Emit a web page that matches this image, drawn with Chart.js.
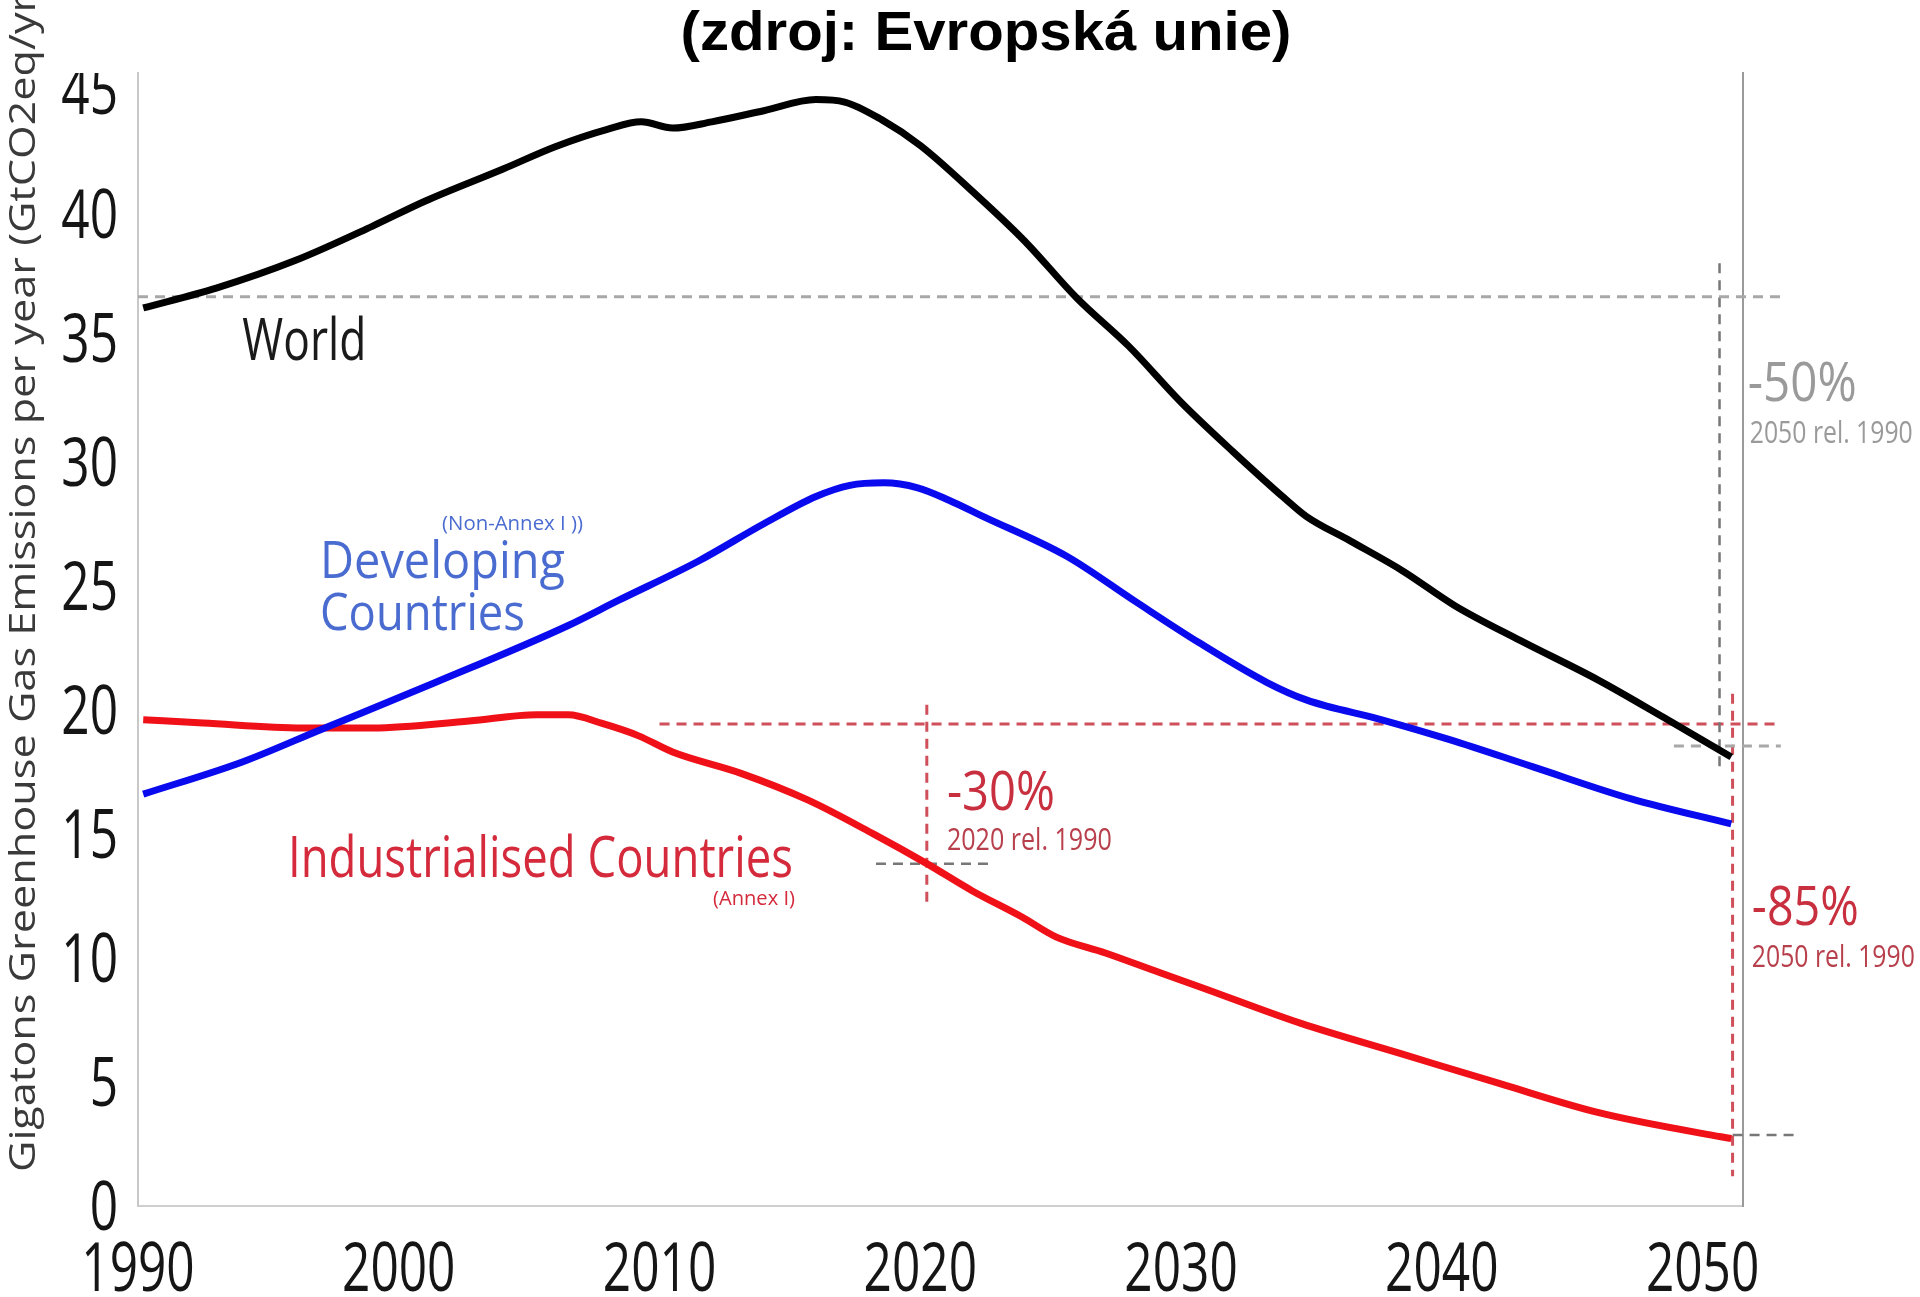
<!DOCTYPE html>
<html>
<head>
<meta charset="utf-8">
<script src="https://cdn.jsdelivr.net/npm/chart.js@4.4.1/dist/chart.umd.min.js"></script>
<style>
  html, body { margin: 0; padding: 0; background: #fff; }
  #wrap { width: 1920px; height: 1297px; position: relative; }
</style>
</head>
<body>
<div id="wrap"><canvas id="chartEmissions"></canvas></div>
<script>
// ── Values (GtCO2eq / yr) ─────────────────────────────────────────────

const worldYears = [1990.2, 1993, 1996, 1999, 2001, 2004, 2006, 2008, 2009.3, 2010.5, 2012, 2014, 2016, 2017.1, 2018.5, 2020, 2022, 2024, 2026, 2028, 2030, 2032, 2034, 2034.8, 2036.5, 2038.5, 2040.5, 2043, 2046, 2048.5, 2051.1];
const worldValues = [36.2, 37.0, 38.1, 39.5, 40.5, 41.8, 42.7, 43.4, 43.7, 43.45, 43.7, 44.15, 44.6, 44.5, 43.8, 42.75, 40.9, 38.9, 36.6, 34.65, 32.4, 30.4, 28.5, 27.8, 26.8, 25.6, 24.2, 22.8, 21.2, 19.7, 18.1];

const developingYears = [1990.2, 1994, 1997, 2001.4, 2006.5, 2008.4, 2011.5, 2014, 2016, 2017.3, 2018.6, 2019.9, 2021.1, 2022.4, 2025.6, 2028.2, 2030.7, 2033.3, 2034.8, 2037.7, 2040.3, 2043.5, 2047.3, 2051.1];
const developingValues = [16.6, 17.9, 19.2, 21.1, 23.4, 24.4, 26.0, 27.5, 28.6, 29.05, 29.15, 28.95, 28.45, 27.8, 26.2, 24.4, 22.7, 21.1, 20.4, 19.6, 18.8, 17.7, 16.4, 15.4];

const industrialYears = [1990.2, 1992.5, 1996.3, 1999, 2002.7, 2005.3, 2006.5, 2007.8, 2009.2, 2010.5, 2013.1, 2015.7, 2018.2, 2020.25, 2022, 2023.9, 2025.2, 2027.1, 2029.2, 2030.7, 2034.6, 2038.4, 2042.2, 2046.1, 2050.7, 2051.1];
const industrialValues = [19.6, 19.47, 19.27, 19.27, 19.55, 19.8, 19.8, 19.45, 18.95, 18.3, 17.45, 16.36, 15.0, 13.8, 12.7, 11.65, 10.85, 10.2, 9.4, 8.84, 7.36, 6.15, 4.94, 3.74, 2.79, 2.72];

const xTicks = [1990, 2000, 2010, 2020, 2030, 2040, 2050];
const yTicks = [0, 5, 10, 15, 20, 25, 30, 35, 40, 45];

// dashed guide segments: [x0, y0, x1, y1]
const guideSegments = [
  [1990.0, 36.65, 2053.0, 36.65],   // world 1990 level
  [2050.65, 38.0, 2050.65, 17.6],   // world 2050 marker
  [2048.9, 18.54, 2053.0, 18.54],   // world 2050 level
  [2010.0, 19.43, 2053.0, 19.43],   // industrialised 1990 level
  [2020.25, 20.2, 2020.25, 12.1],   // 2020 marker
  [2018.3, 13.8, 2022.75, 13.8],    // industrialised 2020 level
  [2051.15, 20.65, 2051.15, 1.2],   // industrialised 2050 marker
  [2051.15, 2.86, 2053.6, 2.86],    // industrialised 2050 level
];
const guideKinds = ["grey", "dark", "grey", "red", "red", "dark", "red", "dark"];

// ── Annotation texts (anchored in data coordinates) ──────────────────

const labelTexts = ["World", "(Non-Annex I ))", "Developing", "Countries", "Industrialised Countries", "(Annex I)", "-30%", "2020 rel. 1990", "-50%", "2050 rel. 1990", "-85%", "2050 rel. 1990"];
const labelYears = [1994.0, 2001.66, 1996.98, 1996.98, 1995.75, 2012.05, 2021.02, 2021.02, 2051.73, 2051.81, 2051.89, 2051.89];
const labelValues = [34.1, 27.25, 25.31, 23.22, 13.26, 12.13, 15.96, 14.35, 32.45, 30.75, 11.33, 9.63];

const labelStyles = [
  { size: 58, width: 124, color: "#1a1a1a" },
  { size: 20, width: 141, color: "#4a6cd0" },
  { size: 52, width: 245, color: "#4a6cd0" },
  { size: 52, width: 205, color: "#4a6cd0" },
  { size: 56, width: 505, color: "#d42a3c" },
  { size: 20, width: 82, color: "#d42a3c" },
  { size: 54, width: 108, color: "#c8303f" },
  { size: 31, width: 165, color: "#b8404c" },
  { size: 55, width: 109, color: "#9a9a9a" },
  { size: 31, width: 163, color: "#9a9a9a" },
  { size: 55, width: 107, color: "#c8303f" },
  { size: 31, width: 163, color: "#b8404c" },
];

const guideColors = { grey: "#a8a8a8", dark: "#777777", red: "#cf4f5a" };

// the source image is squeezed horizontally; tick digits follow that
const tickSize = 67;
const tickSqueeze = 0.74;

const toPoints = (xs, ys) => xs.map((x, i) => ({ x, y: ys[i] }));

// text squeezed/stretched to a given width, as in the source image
function drawFit(ctx, text, x, y, size, width, color, weight) {
  ctx.save();
  ctx.font = `${weight || "normal"} ${size}px "Open Sans", sans-serif`;
  const w = ctx.measureText(text).width;
  ctx.translate(x, y);
  ctx.scale(width / w, 1);
  ctx.fillStyle = color;
  ctx.textAlign = "left";
  ctx.textBaseline = "alphabetic";
  ctx.fillText(text, 0, 0);
  ctx.restore();
}

function drawTick(ctx, text, x, y, align) {
  ctx.save();
  ctx.font = `${tickSize}px "Open Sans", sans-serif`;
  ctx.translate(x, y);
  ctx.scale(tickSqueeze, 1);
  ctx.fillStyle = "#151515";
  ctx.textAlign = align;
  ctx.textBaseline = "alphabetic";
  ctx.fillText(text, 0, 0);
  ctx.restore();
}

const annotationPlugin = {
  id: "annotations",
  afterDatasetsDraw(chart) {
    const { ctx, scales, chartArea } = chart;
    const half = tickSize * 0.357;

    // tick labels, placed on the library's own ticks
    scales.x.ticks.forEach((t) => {
      drawTick(ctx, String(t.value), scales.x.getPixelForValue(t.value), 1267 + half, "center");
    });
    ctx.save();
    ctx.beginPath();
    ctx.rect(0, chartArea.top, chartArea.left, chart.height);
    ctx.clip();
    scales.y.ticks.forEach((t) => {
      drawTick(ctx, String(t.value), scales.y.left + 100, scales.y.getPixelForValue(t.value) + half, "right");
    });
    ctx.restore();

    labelTexts.forEach((t, i) => {
      const s = labelStyles[i];
      drawFit(ctx, t, scales.x.getPixelForValue(labelYears[i]), scales.y.getPixelForValue(labelValues[i]), s.size, s.width, s.color);
    });

    // page title
    ctx.save();
    ctx.font = 'bold 55px "Liberation Sans", Arial, sans-serif';
    const tw = ctx.measureText("(zdroj: Evropská unie)").width;
    ctx.translate(986 - 611 / 2, 50);
    ctx.scale(611 / tw, 1);
    ctx.fillStyle = "#000";
    ctx.fillText("(zdroj: Evropská unie)", 0, 0);
    ctx.restore();

    // y axis title, rotated
    const yTitle = "Gigatons Greenhouse Gas Emissions per year (GtCO2eq/yr)";
    ctx.save();
    ctx.font = '37px "Open Sans", sans-serif';
    const yw = ctx.measureText(yTitle).width;
    ctx.translate(35, 1172);
    ctx.rotate(-Math.PI / 2);
    ctx.scale(1190 / yw, 1);
    ctx.fillStyle = "#3a3a3a";
    ctx.fillText(yTitle, 0, 0);
    ctx.restore();
  },
};

const seriesDefaults = {
  pointRadius: 0,
  borderWidth: 7,
  fill: false,
  cubicInterpolationMode: "monotone",
  borderJoinStyle: "round",
};

new Chart(document.getElementById("chartEmissions"), {
  type: "line",
  data: {
    datasets: [
      { ...seriesDefaults, label: "World", data: toPoints(worldYears, worldValues), borderColor: "#000000" },
      { ...seriesDefaults, label: "Developing Countries", data: toPoints(developingYears, developingValues), borderColor: "#0a0aee" },
      { ...seriesDefaults, label: "Industrialised Countries", data: toPoints(industrialYears, industrialValues), borderColor: "#f01018" },
      ...guideSegments.map((g, i) => ({
        label: "guide " + i,
        data: [{ x: g[0], y: g[1] }, { x: g[2], y: g[3] }],
        borderColor: guideColors[guideKinds[i]],
        borderWidth: guideKinds[i] === "dark" ? 2.5 : 3,
        borderDash: [10, 7],
        pointRadius: 0,
        tension: 0,
        clip: false,
      })),
    ],
  },
  options: {
    responsive: true,
    maintainAspectRatio: false,
    animation: false,
    layout: { padding: { top: 73, left: 18, right: 177, bottom: 0 } },
    plugins: {
      legend: { display: false },
      tooltip: { enabled: false },
    },
    scales: {
      x: {
        type: "linear",
        min: 1990,
        max: 2051.55,
        afterBuildTicks: (scale) => { scale.ticks = xTicks.map((v) => ({ value: v })); },
        afterFit: (scale) => { scale.height = 91; },
        grid: { display: false, drawTicks: false },
        border: { display: true, color: "#cfcfcf", width: 2 },
        ticks: { display: false },
      },
      y: {
        min: 0,
        max: 45.67,
        afterBuildTicks: (scale) => { scale.ticks = yTicks.map((v) => ({ value: v })); },
        afterFit: (scale) => { scale.width = 120; },
        grid: { display: false, drawTicks: false },
        border: { display: true, color: "#c8c8c8", width: 2 },
        ticks: { display: false },
      },
      y2: {
        position: "right",
        min: 0,
        max: 45.67,
        afterFit: (scale) => { scale.width = 0; },
        grid: { display: false, drawTicks: false },
        border: { display: true, color: "#9a9a9a", width: 2 },
        ticks: { display: false },
      },
    },
  },
  plugins: [annotationPlugin],
});
</script>
</body>
</html>
